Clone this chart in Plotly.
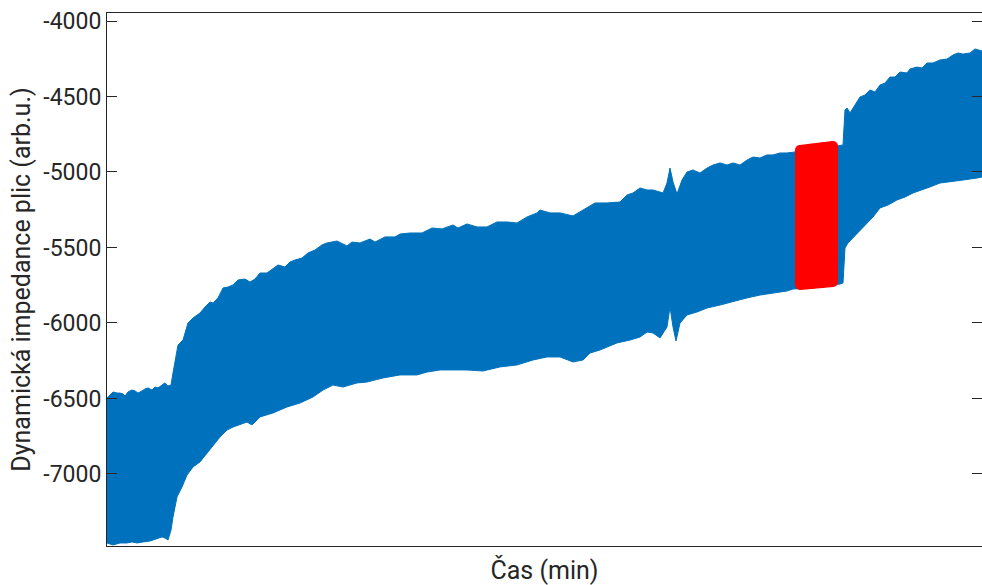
import plotly.graph_objects as go

# Upper envelope of the impedance signal (time in min, value in arb.u.)
upper_t = [0, 0.12, 0.24, 0.4, 0.52, 0.64, 0.72, 0.84, 1.0, 1.12, 1.24, 1.4, 1.52, 1.64,
           1.8, 1.92, 2.04, 2.2, 2.32, 2.44, 2.56, 2.64, 2.72, 2.84, 3.04, 3.24, 3.44,
           3.72, 3.92, 4.12, 4.24, 4.44, 4.64, 4.84, 5.04, 5.24, 5.52, 5.72, 5.92, 6.12,
           6.4, 6.6, 6.84, 7.12, 7.32, 7.52, 7.8, 8.04, 8.32, 8.6, 8.8, 9.2, 9.6, 9.8,
           10.12, 10.52, 10.72, 11.12, 11.52, 11.72, 12.12, 12.6, 13.0, 13.4, 13.84,
           14.04, 14.4, 14.8, 15.2, 15.6, 16.0, 16.4, 16.8, 17.2, 17.32, 17.72, 18.12,
           18.64, 19.04, 19.52, 20.0, 20.52, 20.8, 21.04, 21.32, 21.6, 21.84, 22.12,
           22.24, 22.4, 22.52, 22.64, 22.8, 23.0, 23.2, 23.44, 23.72, 24.0, 24.24, 24.52,
           24.8, 25.04, 25.32, 25.6, 25.84, 26.12, 26.4, 26.64, 26.92, 27.2, 27.44,
           28.12, 28.72, 29.32, 29.44, 29.52, 29.6, 29.72, 29.92, 30.12, 30.32, 30.52,
           30.72, 30.92, 31.12, 31.32, 31.52, 31.72, 32.0, 32.12, 32.4, 32.6, 32.8,
           33.04, 33.32, 33.6, 33.84, 34.04, 34.24, 34.52, 34.72, 35.0]
upper_v = [-6497, -6477, -6457, -6464, -6464, -6470, -6483, -6457, -6444, -6450, -6464,
           -6450, -6437, -6430, -6444, -6424, -6430, -6411, -6397, -6417, -6411, -6331,
           -6265, -6146, -6113, -6000, -5967, -5934, -5894, -5861, -5868, -5834, -5768,
           -5762, -5748, -5715, -5709, -5729, -5709, -5669, -5669, -5642, -5616, -5629,
           -5596, -5583, -5570, -5536, -5517, -5483, -5470, -5457, -5490, -5464, -5470,
           -5444, -5464, -5430, -5430, -5411, -5404, -5404, -5371, -5377, -5351, -5371,
           -5344, -5364, -5364, -5331, -5331, -5338, -5298, -5271, -5252, -5271, -5271,
           -5291, -5252, -5205, -5205, -5199, -5152, -5139, -5106, -5119, -5119, -5132,
           -5139, -5073, -4974, -5066, -5146, -5053, -5000, -4987, -5007, -4974, -4954,
           -4940, -4954, -4940, -4954, -4921, -4901, -4907, -4887, -4887, -4874, -4874,
           -4868, -4854, -4841, -4821, -4821, -4589, -4576, -4609, -4556, -4503, -4490,
           -4457, -4470, -4424, -4411, -4371, -4371, -4338, -4344, -4318, -4305, -4311,
           -4278, -4278, -4258, -4252, -4225, -4212, -4219, -4212, -4185, -4199]

# Lower envelope of the impedance signal
lower_t = [0, 0.24, 0.52, 0.8, 1.0, 1.2, 1.44, 1.72, 2.0, 2.2, 2.32, 2.44, 2.56, 2.64,
           2.8, 3.0, 3.2, 3.44, 3.72, 4.0, 4.32, 4.52, 4.8, 5.04, 5.6, 5.8, 6.12, 6.64,
           7.2, 7.72, 8.24, 8.64, 9.04, 9.44, 10.0, 10.4, 11.04, 11.72, 12.4, 12.8,
           13.32, 14.0, 14.4, 15.04, 15.72, 16.4, 17.04, 17.6, 18.12, 18.64, 19.04,
           19.32, 19.72, 20.4, 20.92, 21.32, 21.6, 21.84, 22.12, 22.4, 22.52, 22.64,
           22.76, 22.92, 23.2, 23.6, 24.0, 24.52, 25.04, 25.6, 26.12, 26.64, 27.2, 27.44,
           28.12, 28.92, 29.32, 29.44, 29.52, 29.64, 29.84, 30.12, 30.4, 30.64, 30.92,
           31.24, 31.6, 31.92, 32.24, 32.6, 32.92, 33.32, 33.72, 34.24, 34.8, 35.0]
lower_v = [-7457, -7470, -7457, -7457, -7450, -7457, -7450, -7444, -7430, -7417, -7424,
           -7437, -7371, -7285, -7152, -7086, -7007, -6954, -6920, -6861, -6795, -6755,
           -6709, -6689, -6656, -6675, -6622, -6596, -6556, -6530, -6490, -6444, -6411,
           -6424, -6397, -6391, -6364, -6344, -6344, -6325, -6311, -6311, -6311, -6318,
           -6291, -6278, -6245, -6225, -6225, -6258, -6245, -6199, -6179, -6132, -6113,
           -6093, -6060, -6066, -6099, -6026, -5894, -6026, -6119, -6000, -5947, -5927,
           -5901, -5881, -5861, -5834, -5815, -5801, -5788, -5775, -5768, -5748, -5742,
           -5735, -5503, -5470, -5430, -5384, -5338, -5298, -5238, -5219, -5185, -5166,
           -5139, -5119, -5099, -5073, -5066, -5053, -5040, -5033]

# Highlighted segment (red)
red_t = [27.72, 28.2, 28.6, 29.04]
red_upper = [-4854, -4846, -4838, -4828]
red_lower = [-5748, -5742, -5736, -5729]

y_ticks = [-7000, -6500, -6000, -5500, -5000, -4500, -4000]
y_tick_text = ["-7000", "-6500", "-6000", "-5500", "-5000", "-4500", "-4000"]

BLUE = "#0072BD"
RED = "#FF0000"
AXIS = "#262626"
FONT = "Roboto, Arial, sans-serif"

fig = go.Figure()

# Blue band between the envelopes
fig.add_trace(go.Scatter(
    x=upper_t + lower_t[::-1],
    y=upper_v + lower_v[::-1],
    fill="toself", fillcolor=BLUE,
    mode="lines", line=dict(color=BLUE, width=1),
    hoverinfo="skip", showlegend=False,
))

# Red segment: filled body
fig.add_trace(go.Scatter(
    x=red_t + red_t[::-1],
    y=red_upper + red_lower[::-1],
    fill="toself", fillcolor=RED,
    mode="lines", line=dict(color=RED, width=0),
    hoverinfo="skip", showlegend=False,
))

# Red segment: thick edges with round markers at the vertices
edge_x = red_t + [None] + red_t + [None] + [red_t[0], red_t[0]] + [None] + [red_t[-1], red_t[-1]]
edge_y = red_upper + [None] + red_lower + [None] + [red_upper[0], red_lower[0]] + [None] + [red_upper[-1], red_lower[-1]]
fig.add_trace(go.Scatter(
    x=edge_x, y=edge_y, mode="lines",
    line=dict(color=RED, width=10),
    hoverinfo="skip", showlegend=False,
))
fig.add_trace(go.Scatter(
    x=red_t + red_t, y=red_upper + red_lower, mode="markers",
    marker=dict(color=RED, size=10, line=dict(width=0)),
    hoverinfo="skip", showlegend=False,
))

fig.update_layout(
    width=982, height=585,
    margin=dict(l=107, r=0, t=13, b=39),
    paper_bgcolor="white", plot_bgcolor="white",
    font=dict(family=FONT, size=23, color=AXIS),
    showlegend=False,
    xaxis=dict(
        range=[0, 35], showticklabels=False, ticks="",
        showline=True, linecolor=AXIS, linewidth=1, mirror=True,
        showgrid=False, zeroline=False,
        title=dict(text="Čas (min)", font=dict(size=25, color=AXIS), standoff=15),
    ),
    yaxis=dict(
        range=[-7477, -3947], tickvals=y_ticks, ticktext=y_tick_text,
        ticks="inside", ticklen=10, tickwidth=1, tickcolor=AXIS,
        showline=True, linecolor=AXIS, linewidth=1, mirror="ticks",
        showgrid=False, zeroline=False,
        tickfont=dict(size=23, color=AXIS),
        title=dict(text="Dynamická impedance plic (arb.u.)", font=dict(size=25, color=AXIS), standoff=5),
    ),
)

fig.write_html("out.html")
